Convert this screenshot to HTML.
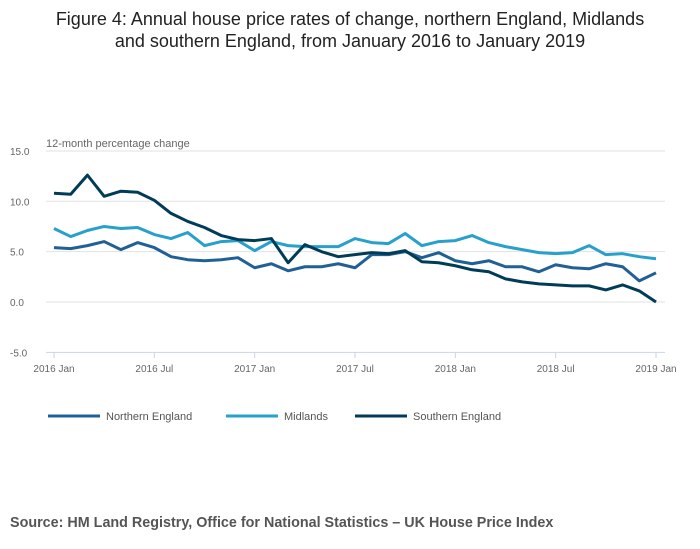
<!DOCTYPE html>
<html><head><meta charset="utf-8"><style>
body{margin:0;background:#fff;font-family:"Liberation Sans",sans-serif}
#wrap{position:relative;width:700px;height:549px;overflow:hidden}
</style></head><body>
<div id="wrap">
<svg id="chart" width="700" height="549">
<text x="350" y="25" text-anchor="middle" font-size="18" fill="#222">Figure 4: Annual house price rates of change, northern England, Midlands</text>
<text x="350" y="47" text-anchor="middle" font-size="18" fill="#222">and southern England, from January 2016 to January 2019</text>
<text x="46" y="147" font-size="11" fill="#666">12-month percentage change</text>
<g id="grid"></g><g id="lines"></g>
<g id="legend" font-size="11" fill="#555">
<line x1="48" y1="416" x2="100" y2="416" stroke="#206095" stroke-width="3"/>
<text x="106" y="420">Northern England</text>
<line x1="226" y1="416" x2="278" y2="416" stroke="#27a0cc" stroke-width="3"/>
<text x="284" y="420">Midlands</text>
<line x1="355" y1="416" x2="407" y2="416" stroke="#003c57" stroke-width="3"/>
<text x="413" y="420">Southern England</text>
</g>
<text x="10" y="527" font-size="14.35" font-weight="bold" fill="#555">Source: HM Land Registry, Office for National Statistics – UK House Price Index</text>
</svg>
</div>
<script>
const northern=[5.4,5.3,5.6,6.0,5.2,5.9,5.4,4.5,4.2,4.1,4.2,4.4,3.4,3.8,3.1,3.5,3.5,3.8,3.4,4.7,4.7,5.0,4.4,4.9,4.1,3.8,4.1,3.5,3.5,3.0,3.7,3.4,3.3,3.8,3.5,2.1,2.9];
const midlands=[7.3,6.5,7.1,7.5,7.3,7.4,6.7,6.3,6.9,5.6,6.0,6.1,5.1,6.0,5.6,5.5,5.5,5.5,6.3,5.9,5.8,6.8,5.6,6.0,6.1,6.6,5.9,5.5,5.2,4.9,4.8,4.9,5.6,4.7,4.8,4.5,4.3];
const southern=[10.8,10.7,12.6,10.5,11.0,10.9,10.1,8.8,8.0,7.4,6.6,6.2,6.1,6.3,3.9,5.7,5.0,4.5,4.7,4.9,4.8,5.1,4.0,3.9,3.6,3.2,3.0,2.3,2.0,1.8,1.7,1.6,1.6,1.2,1.7,1.1,0.0];
const yTicks=[15,10,5,0,-5];
const yTickLabels=["15.0","10.0","5.0","0.0","-5.0"];
const xTickIdx=[0,6,12,18,24,30,36];
const xTickLabels=["2016 Jan","2016 Jul","2017 Jan","2017 Jul","2018 Jan","2018 Jul","2019 Jan"];
const NS="http://www.w3.org/2000/svg";
const xs=i=>54+i*(602/36);
const ys=v=>302-v*10.07;
const grid=document.getElementById('grid');
yTicks.forEach((t,k)=>{
  const l=document.createElementNS(NS,'line');
  l.setAttribute('x1',46);l.setAttribute('x2',665);l.setAttribute('y1',ys(t));l.setAttribute('y2',ys(t));
  l.setAttribute('stroke',t===-5?'#c8d6e8':'#e2e2e2');l.setAttribute('stroke-width',1);
  
  
  grid.appendChild(l);
  const tx=document.createElementNS(NS,'text');
  tx.setAttribute('x',10);tx.setAttribute('y',ys(t)+4);tx.setAttribute('font-size','10');tx.setAttribute('fill','#666');
  tx.textContent=yTickLabels[k];
  
  
  grid.appendChild(tx);
});
xTickIdx.forEach((i,k)=>{
  const l=document.createElementNS(NS,'line');
  l.setAttribute('x1',xs(i));l.setAttribute('x2',xs(i));l.setAttribute('y1',352);l.setAttribute('y2',358);
  l.setAttribute('stroke','#c8d6e8');
  
  
  grid.appendChild(l);
  const tx=document.createElementNS(NS,'text');
  tx.setAttribute('x',xs(i));tx.setAttribute('y',372);tx.setAttribute('font-size','10');tx.setAttribute('fill','#666');tx.setAttribute('text-anchor','middle');
  tx.textContent=xTickLabels[k];
  
  
  grid.appendChild(tx);
});
const lines=document.getElementById('lines');
[[northern,'#206095','northern-england-line'],[midlands,'#27a0cc','midlands-line'],[southern,'#003c57','southern-england-line']].forEach(([d,c,n])=>{
  const p=document.createElementNS(NS,'polyline');
  p.setAttribute('points',d.map((v,i)=>xs(i)+','+ys(v)).join(' '));
  p.setAttribute('fill','none');p.setAttribute('stroke',c);p.setAttribute('stroke-width',3);p.setAttribute('stroke-linejoin','round');
  
  
  lines.appendChild(p);
});
</script>
</body></html>
